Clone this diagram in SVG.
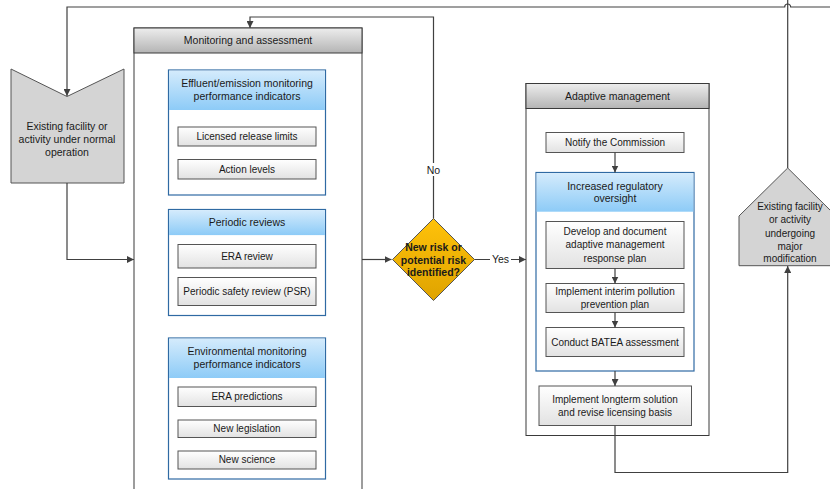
<svg xmlns="http://www.w3.org/2000/svg" width="830" height="489" viewBox="0 0 830 489">
<defs>
<linearGradient id="gGrey" x1="0" y1="0" x2="0" y2="1"><stop offset="0" stop-color="#ededed"/><stop offset="1" stop-color="#b4b4b4"/></linearGradient>
<linearGradient id="gBlue" x1="0" y1="0" x2="0" y2="1"><stop offset="0" stop-color="#d4ebfc"/><stop offset="1" stop-color="#8dcbf7"/></linearGradient>
<linearGradient id="gSub" x1="0" y1="0" x2="0" y2="1"><stop offset="0" stop-color="#ffffff"/><stop offset="1" stop-color="#e2e2e2"/></linearGradient>
<linearGradient id="gGold" x1="0" y1="0" x2="0" y2="1"><stop offset="0" stop-color="#ffc20a"/><stop offset="1" stop-color="#dfa300"/></linearGradient>
<marker id="arr" viewBox="0 0 10 10" refX="10" refY="5" markerWidth="7" markerHeight="7" markerUnits="userSpaceOnUse" orient="auto"><path d="M0,0 L10,5 L0,10 z" fill="#404040"/></marker>
</defs>
<style>
text{font-family:"Liberation Sans",Arial,sans-serif;font-size:10.5px;fill:#1a1a1a;text-anchor:middle}
.s{font-size:10px}
.b{font-weight:bold;font-size:10.5px}
.outer{fill:#fff;stroke:#3a3a3a;stroke-width:1}
.hdr{fill:url(#gGrey);stroke:#3a3a3a;stroke-width:1}
.grp{fill:#fff;stroke:#2f6aa3;stroke-width:1.2}
.ghdr{fill:url(#gBlue);stroke:none}
.sub{fill:url(#gSub);stroke:#555;stroke-width:1}
.shape{fill:#d4d4d4;stroke:#555;stroke-width:1}
.ln{fill:none;stroke:#404040;stroke-width:1.2}
</style>

<g id="existing-normal">
  <path class="shape" d="M11,69 L67,96.5 L124,69 V183 H11 Z"/>
  <text x="67" y="130">Existing facility or</text>
  <text x="67" y="143">activity under normal</text>
  <text x="67" y="156">operation</text>
</g>

<g id="monitoring">
  <rect class="outer" x="134" y="28" width="228" height="470"/>
  <rect class="hdr" x="134" y="28" width="228" height="25"/>
  <text x="248" y="44">Monitoring and assessment</text>
</g>

<g id="effluent">
  <rect class="grp" x="168.5" y="70" width="157" height="125"/>
  <rect class="ghdr" x="169.1" y="70.6" width="155.8" height="39.4"/>
  <text x="247" y="87">Effluent/emission monitoring</text>
  <text x="247" y="100">performance indicators</text>
  <g id="licensed"><rect class="sub" x="178" y="127" width="138" height="19"/><text class="s" x="247" y="140">Licensed release limits</text></g>
  <g id="action"><rect class="sub" x="178" y="159.5" width="138" height="19.5"/><text class="s" x="247" y="172.5">Action levels</text></g>
</g>

<g id="periodic">
  <rect class="grp" x="168.5" y="209.5" width="157" height="106"/>
  <rect class="ghdr" x="169.1" y="210.1" width="155.8" height="25"/>
  <text x="247" y="226">Periodic reviews</text>
  <g id="era-review"><rect class="sub" x="178" y="244.5" width="138" height="23.5"/><text class="s" x="247" y="259.5">ERA review</text></g>
  <g id="psr"><rect class="sub" x="178" y="277.5" width="138" height="28"/><text class="s" x="247" y="294.5">Periodic safety review (PSR)</text></g>
</g>

<g id="environmental">
  <rect class="grp" x="168.5" y="338" width="157" height="141"/>
  <rect class="ghdr" x="169.1" y="338.6" width="155.8" height="39.4"/>
  <text x="247" y="355">Environmental monitoring</text>
  <text x="247" y="368">performance indicators</text>
  <g id="era-pred"><rect class="sub" x="178" y="387" width="138" height="19.5"/><text class="s" x="247" y="400">ERA predictions</text></g>
  <g id="legislation"><rect class="sub" x="178" y="420" width="138" height="17.5"/><text class="s" x="247" y="432">New legislation</text></g>
  <g id="science"><rect class="sub" x="178" y="451" width="138" height="18"/><text class="s" x="247" y="463">New science</text></g>
</g>

<g id="decision">
  <path d="M433.5,218.5 L474.5,259.5 L433.5,300.5 L392.5,259.5 Z" fill="url(#gGold)" stroke="#555" stroke-width="1"/>
  <text class="b" x="433.5" y="251">New risk or</text>
  <text class="b" x="433.5" y="263.5">potential risk</text>
  <text class="b" x="433.5" y="276">identified?</text>
</g>

<g id="adaptive">
  <rect class="outer" x="526" y="83.5" width="183" height="352"/>
  <rect class="hdr" x="526" y="83.5" width="183" height="25"/>
  <text x="617.5" y="100">Adaptive management</text>
  <g id="notify"><rect class="sub" x="546" y="132.5" width="138" height="20"/><text class="s" x="615" y="146">Notify the Commission</text></g>
  <g id="oversight">
    <rect class="grp" x="536" y="172.5" width="158" height="198.5"/>
    <rect class="ghdr" x="536.6" y="173.1" width="156.8" height="38.6"/>
    <text x="615" y="189.5">Increased regulatory</text>
    <text x="615" y="202">oversight</text>
  </g>
  <g id="develop"><rect class="sub" x="546" y="221.5" width="138" height="47"/><text class="s" x="615" y="235">Develop and document</text><text class="s" x="615" y="248">adaptive management</text><text class="s" x="615" y="261.5">response plan</text></g>
  <g id="interim"><rect class="sub" x="546" y="283.5" width="138" height="29"/><text class="s" x="615" y="295">Implement interim pollution</text><text class="s" x="615" y="307.5">prevention plan</text></g>
  <g id="batea"><rect class="sub" x="546" y="327.5" width="138" height="29"/><text class="s" x="615" y="345.5">Conduct BATEA assessment</text></g>
  <g id="longterm"><rect class="sub" x="539" y="386" width="152.5" height="39.5"/><text class="s" x="615" y="403">Implement longterm solution</text><text class="s" x="615" y="416">and revise licensing basis</text></g>
</g>

<g id="existing-modification">
  <path class="shape" d="M787.7,168 L836,216 V265.7 H739 V216 Z"/>
  <text class="s" x="790" y="209.5">Existing facility</text>
  <text class="s" x="790" y="223">or activity</text>
  <text class="s" x="790" y="236.5">undergoing</text>
  <text class="s" x="790" y="250">major</text>
  <text class="s" x="790" y="262">modification</text>
</g>

<g id="connectors">
  <path class="ln" d="M830,7 H790.7 A3,3 0 0 0 784.7,7 H67 V96" marker-end="url(#arr)"/>
  <path class="ln" d="M787.7,0 V168"/>
  <path class="ln" d="M67,183 V259.5 H134" marker-end="url(#arr)"/>
  <path class="ln" d="M362,259.5 H391.5" marker-end="url(#arr)"/>
  <path class="ln" d="M433.5,218.5 V17 H250 V28" marker-end="url(#arr)"/>
  <path class="ln" d="M474.5,259.5 H526" marker-end="url(#arr)"/>
  <path class="ln" d="M615,152.5 V172.5" marker-end="url(#arr)"/>
  <path class="ln" d="M615,268.5 V283.5" marker-end="url(#arr)"/>
  <path class="ln" d="M615,312.5 V327.5" marker-end="url(#arr)"/>
  <path class="ln" d="M615,371 V386" marker-end="url(#arr)"/>
  <path class="ln" d="M615,425.5 V472.5 H787.7 V266" marker-end="url(#arr)"/>
  <rect x="424" y="163" width="19" height="13" fill="#fff"/>
  <text x="433.5" y="173.5">No</text>
  <rect x="490" y="253" width="21" height="13" fill="#fff"/>
  <text x="500.5" y="263">Yes</text>
</g>
</svg>
